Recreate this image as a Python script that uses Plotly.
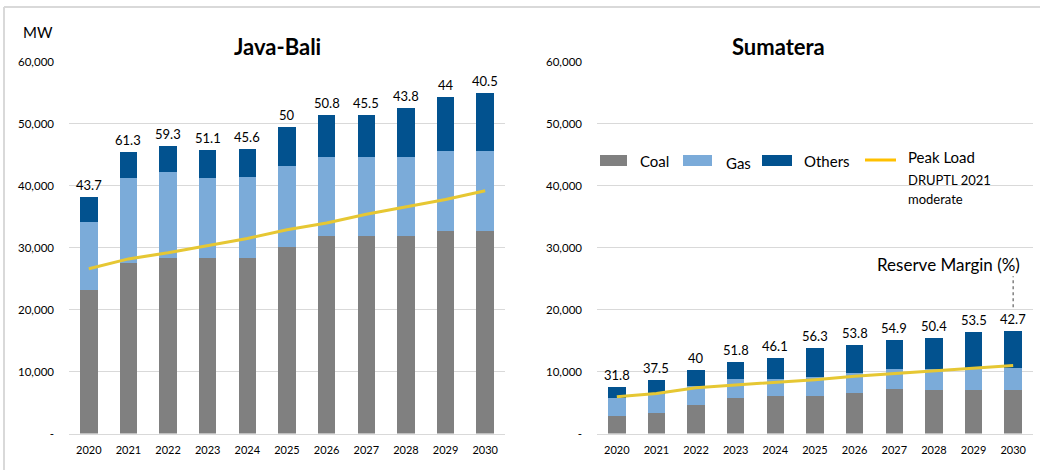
import plotly.graph_objects as go

# ---------------- data ----------------
years = ["2020", "2021", "2022", "2023", "2024", "2025",
         "2026", "2027", "2028", "2029", "2030"]

# Java-Bali installed capacity by fuel (MW) and peak load (MW)
jb_coal = [23100, 27600, 28400, 28400, 28400, 30200, 31900, 31900, 31900, 32700, 32700]
jb_gas = [11000, 13600, 13800, 12800, 13000, 13000, 12800, 12800, 12800, 12900, 12900]
jb_others = [4100, 4300, 4300, 4600, 4600, 6300, 6700, 6700, 7900, 8700, 9400]
jb_peak = [26600, 28200, 29200, 30400, 31500, 32900, 34000, 35400, 36600, 37800, 39200]
jb_reserve = ["43.7", "61.3", "59.3", "51.1", "45.6", "50", "50.8", "45.5", "43.8", "44", "40.5"]

# Sumatera installed capacity by fuel (MW) and peak load (MW)
sm_coal = [2750, 3300, 4600, 5700, 6050, 6050, 6600, 7250, 7100, 7100, 7100]
sm_gas = [3000, 3150, 3000, 3100, 2800, 3000, 3100, 3100, 3250, 3450, 3450]
sm_others = [1800, 2250, 2600, 2800, 3350, 4800, 4650, 4800, 5150, 5900, 6050]
sm_peak = [5950, 6450, 7400, 7800, 8200, 8700, 9250, 9700, 10100, 10600, 11000]
sm_reserve = ["31.8", "37.5", "40", "51.8", "46.1", "56.3", "53.8", "54.9", "50.4", "53.5", "42.7"]

y_tickvals = [0, 10000, 20000, 30000, 40000, 50000, 60000]
y_ticktext = ["-", "10,000", "20,000", "30,000", "40,000", "50,000", "60,000"]

# ---------------- styling ----------------
C_COAL = "#808080"
C_GAS = "#7BABD9"
C_OTHERS = "#02528F"
C_PEAK = "#E6C733"
C_PEAK_LEG = "#FFC000"
GRID = "#D9D9D9"
FONT = "Lato"
W, H = 1040, 470

xpos = list(range(len(years)))


def px(x):
    return x / W


def py(y):
    return 1 - y / H


def label(x, y, text, size, xanchor="center"):
    """Paper-positioned text, vertically centred on y."""
    return dict(x=px(x), y=py(y), xref="paper", yref="paper", text=text,
                xanchor=xanchor, yanchor="middle", showarrow=False,
                font=dict(family=FONT, size=size, color="#000000"))


fig = go.Figure()


def add_region(coal, gas, others, peak, xa, ya):
    for vals, color, name in ((coal, C_COAL, "Coal"), (gas, C_GAS, "Gas"),
                              (others, C_OTHERS, "Others")):
        fig.add_trace(go.Bar(x=xpos, y=vals, name=name, marker_color=color,
                             marker_line_width=0, xaxis=xa, yaxis=ya,
                             showlegend=False))
    fig.add_trace(go.Scatter(x=xpos, y=peak, mode="lines", name="Peak Load",
                             line=dict(color=C_PEAK, width=3),
                             xaxis=xa, yaxis=ya, showlegend=False))


add_region(jb_coal, jb_gas, jb_others, jb_peak, "x", "y")
add_region(sm_coal, sm_gas, sm_others, sm_peak, "x2", "y2")

annotations = []
shapes = []

# reserve-margin labels above each stacked bar
for coal, gas, others, labels, xr, yr in (
        (jb_coal, jb_gas, jb_others, jb_reserve, "x", "y"),
        (sm_coal, sm_gas, sm_others, sm_reserve, "x2", "y2")):
    for i, c, g, o, lab in zip(xpos, coal, gas, others, labels):
        annotations.append(dict(x=i, y=c + g + o, xref=xr, yref=yr, text=lab,
                                showarrow=False, xanchor="center", yanchor="bottom",
                                yshift=2,
                                font=dict(family=FONT, size=13, color="#000000")))

# titles, unit label and reserve-margin caption
annotations += [
    label(277, 46, "<b>Java-Bali</b>", 22),
    label(778, 47, "<b>Sumatera</b>", 22),
    label(21, 32, "MW", 15, xanchor="left"),
    label(948, 264, "Reserve Margin (%)", 17),
]

# dotted leader from the reserve-margin caption to the 2030 label
shapes.append(dict(type="line", xref="x2", yref="y2", x0=xpos[-1], x1=xpos[-1],
                   y0=20400, y1=25400, line=dict(color="#7F7F7F", width=1.5, dash="dot")))

# legend drawn inside the Sumatera panel
legend_items = [(600, 627, C_COAL, "Coal", 638, 161),
                (683, 712, C_GAS, "Gas", 724, 163),
                (762, 792, C_OTHERS, "Others", 802, 161)]
for x0, x1, col, name, tx, ty in legend_items:
    shapes.append(dict(type="rect", xref="paper", yref="paper",
                       x0=px(x0), x1=px(x1), y0=py(166), y1=py(155),
                       fillcolor=col, line=dict(width=0)))
    annotations.append(label(tx, ty, name, 15, xanchor="left"))
shapes.append(dict(type="line", xref="paper", yref="paper", x0=px(865), x1=px(896),
                   y0=py(160), y1=py(160), line=dict(color=C_PEAK_LEG, width=3)))
annotations += [
    label(906, 157, "Peak Load", 15, xanchor="left"),
    label(906, 180, "DRUPTL 2021", 13, xanchor="left"),
    label(906, 199, "moderate", 13, xanchor="left"),
]

# outer frame (top and left edges)
shapes += [
    dict(type="line", xref="paper", yref="paper", x0=px(4), x1=1, y0=py(7), y1=py(7),
         line=dict(color=GRID, width=2)),
    dict(type="line", xref="paper", yref="paper", x0=px(4), x1=px(4), y0=0, y1=py(7),
         line=dict(color=GRID, width=2)),
]

ydom = [py(433.5), py(62)]
xaxis_common = dict(type="linear", range=[-0.5, len(years) - 0.5],
                    tickvals=xpos, ticktext=years, automargin=False,
                    showgrid=False, zeroline=False, showline=True, linecolor=GRID,
                    linewidth=1, ticks="", ticklabelstandoff=6,
                    tickfont=dict(family=FONT, size=11, color="#000000"))
yaxis_common = dict(range=[0, 60000], tickvals=y_tickvals, ticktext=y_ticktext,
                    automargin=False, showgrid=True, gridcolor=GRID, gridwidth=1,
                    zeroline=False, showline=False, ticks="", ticklabelstandoff=14,
                    tickfont=dict(family=FONT, size=11.5, color="#000000"), domain=ydom)

fig.update_layout(
    template="none",
    width=W, height=H,
    margin=dict(l=0, r=0, t=0, b=0, pad=0),
    paper_bgcolor="#FFFFFF", plot_bgcolor="#FFFFFF",
    barmode="stack", bargap=0.56,
    showlegend=False,
    xaxis=dict(domain=[px(69), px(505)], anchor="y", **xaxis_common),
    yaxis=dict(anchor="x", **yaxis_common),
    xaxis2=dict(domain=[px(597), px(1033)], anchor="y2", **xaxis_common),
    yaxis2=dict(anchor="x2", **yaxis_common),
    annotations=annotations,
    shapes=shapes,
    font=dict(family=FONT),
)

fig.write_html("out.html")
